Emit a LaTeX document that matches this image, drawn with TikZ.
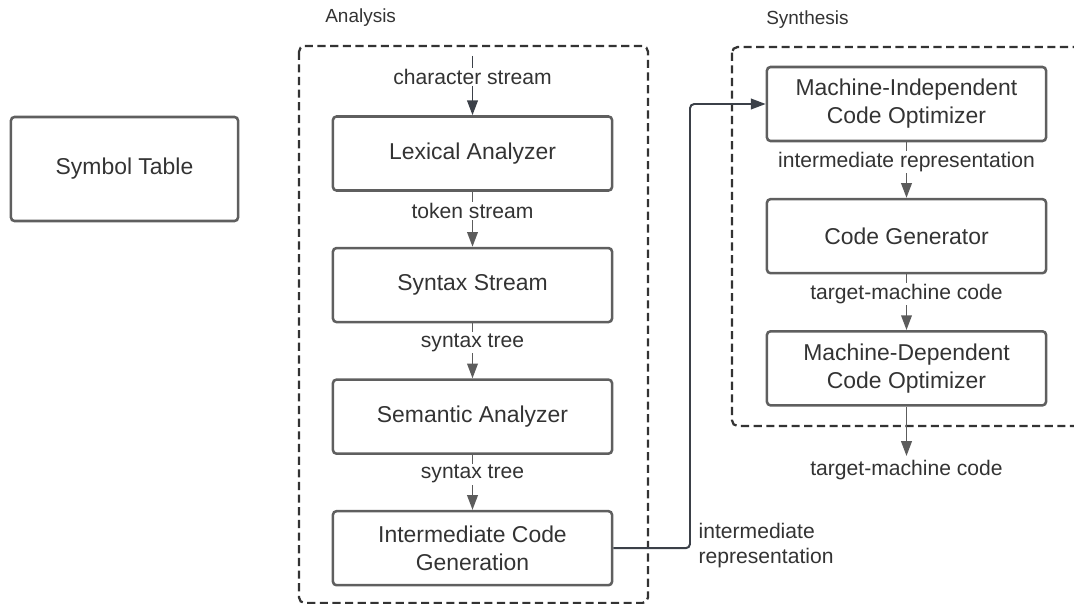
\documentclass[tikz,border=0pt]{standalone}
\usepackage{fontspec}
\setmainfont{Liberation Sans}
\usetikzlibrary{arrows.meta, positioning}
\definecolor{boxgray}{HTML}{5f5f5f}
\definecolor{txtgray}{HTML}{333333}
\definecolor{arrgray}{HTML}{5c5c5c}
\definecolor{arrdark}{HTML}{3b4048}

\begin{document}
\begin{tikzpicture}[
    x=0.025cm, y=-0.025cm,
    node distance=1.375cm,
    phase/.style={rectangle, draw=boxgray, line width=1.8pt, rounded corners=2.5pt, text=txtgray, align=center, minimum width=6.975cm, minimum height=1.85cm, font=\fontsize{16.3}{19.9}\selectfont},
    group/.style={draw=txtgray, line width=1.6pt, dash pattern=on 5.8pt off 3.2pt, rounded corners=4pt},
    elabel/.style={fill=white, text=txtgray, inner sep=1pt, font=\fontsize{15}{17.8}\selectfont},
    title/.style={text=txtgray, inner sep=0pt, anchor=west, font=\fontsize{13.5}{16}\selectfont},
    arrow/.style={-{Triangle[length=10.5pt, width=7.5pt]}, line width=1.4pt, draw=arrgray}
]
\clip (0,0) rectangle (1074,604);

% phase groups
\draw[group] (299,46) rectangle (648,603);
\draw[group] (732,47) rectangle (1110,426);
\node[title] (analysis) at (325,18) {Analysis};
\node[title] (synthesis) at (766,20) {Synthesis};

\node[phase, minimum width=5.675cm, minimum height=2.6cm] (symtab) at (124.5,169) {Symbol Table};

% analysis
\node[phase] (lex) at (472.5,153.5) {Lexical Analyzer};
\node[phase, below=of lex] (syn) {Syntax Stream};
\node[phase, below=of syn] (sem) {Semantic Analyzer};
\node[phase, below=of sem] (icg) {Intermediate Code\\Generation};

% synthesis
\node[phase] (mico) at (906.5,104) {Machine-Independent\\Code Optimizer};
\node[phase, below=1.39cm of mico] (cg) {Code Generator};
\node[phase, below=1.39cm of cg] (mdco) {Machine-Dependent\\Code Optimizer};

\coordinate (src) at (472.5,56);
\coordinate (bend) at (690,300);
\coordinate (out) at (906.5,456);

\draw[arrow, draw=arrdark] (src) -- node[elabel, pos=0.35] {character stream} (lex);
\draw[arrow] (lex) -- node[elabel, pos=0.35] {token stream} (syn);
\draw[arrow] (syn) -- node[elabel, pos=0.35] {syntax tree} (sem);
\draw[arrow] (sem) -- node[elabel, pos=0.35] {syntax tree} (icg);
\draw[arrow, draw=arrdark, rounded corners=3pt] (icg.east) -| (bend) |- (mico.west);
\node[elabel, anchor=west, align=left, fill=none] (irlabel) at (697,546) {intermediate\\representation};
\draw[arrow] (mico) -- node[elabel, pos=0.35] {intermediate representation} (cg);
\draw[arrow] (cg) -- node[elabel, pos=0.35] {target-machine code} (mdco);
\draw[arrow] (mdco) -- (out) node[elabel, below=1pt] (outlabel) {target-machine code};
\end{tikzpicture}
\end{document}
